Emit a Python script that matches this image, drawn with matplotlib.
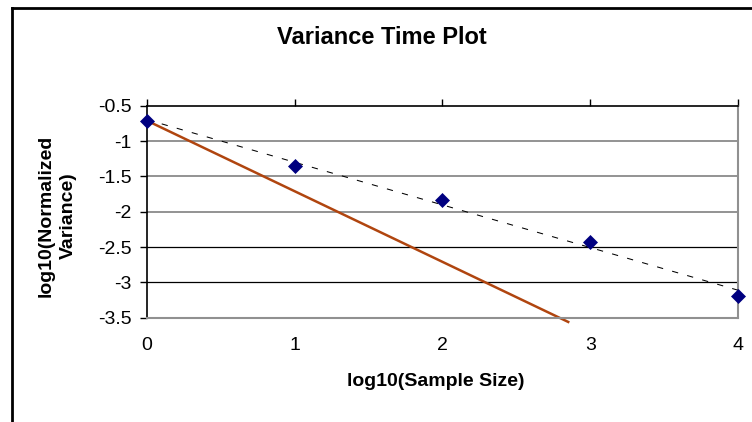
import numpy as np
import matplotlib
matplotlib.use('Agg')
import matplotlib.pyplot as plt
from matplotlib.lines import Line2D

plt.rcParams['font.family'] = ['Liberation Sans', 'DejaVu Sans']
plt.rcParams['axes.unicode_minus'] = False

# 数据：log10(样本量) 与 log10(归一化方差)
sample_size = [0, 1, 2, 3, 4]
norm_var = [-0.71, -1.35, -1.84, -2.43, -3.19]

# 斜率 -1 的参考线（两个端点）
ref_x = [0, 2.85]
ref_y = [-0.71, -3.56]

x_ticks = [0, 1, 2, 3, 4]
x_labels = ['0', '1', '2', '3', '4']
y_ticks = [-3.5, -3, -2.5, -2, -1.5, -1, -0.5]
y_labels = ['-3.5', '-3', '-2.5', '-2', '-1.5', '-1', '-0.5']
grid_levels = [-1, -1.5, -2, -2.5, -3]
grid_colors = ['#808080', '#808080', '#808080', '#000000', '#000000']

W, H = 752, 422
fig = plt.figure(figsize=(W / 100, H / 100), dpi=100)
ax = fig.add_axes([146.7 / W, 1 - 317.7 / H, (738.3 - 146.7) / W, (317.7 - 105.7) / H])

# 网格线
for lv, c in zip(grid_levels, grid_colors):
    ax.axhline(lv, color=c, lw=1.2 if c != '#000000' else 0.9, zorder=1)

# 线性趋势线（和 Excel 一样用最小二乘）
k, b = np.polyfit(sample_size, norm_var, 1)
tx = np.array([sample_size[0], sample_size[-1]])
ax.plot(tx, k * tx + b, color='black', lw=0.75, dashes=(6, 9), zorder=3)

# 参考线
ax.plot(ref_x, ref_y, color='#B0450F', lw=1.8, clip_on=False, zorder=2)

# 数据点
ax.plot(sample_size, norm_var, linestyle='none', marker='D', markersize=6.8,
        color='#000080', mew=0.5, clip_on=False, zorder=4)

ax.set_xlim(0, 4)
ax.set_ylim(-3.5, -0.5)
ax.set_xticks(x_ticks)
ax.set_xticklabels(x_labels)
ax.set_yticks(y_ticks)
ax.set_yticklabels(y_labels)

ax.spines['left'].set_color('black')
ax.spines['left'].set_linewidth(1.2)
ax.spines['top'].set_color('black')
ax.spines['top'].set_linewidth(1.2)
ax.spines['right'].set_color('#909090')
ax.spines['right'].set_linewidth(1.5)
ax.spines['bottom'].set_color('#909090')
ax.spines['bottom'].set_linewidth(1.5)

ax.tick_params(axis='x', top=True, bottom=False, labeltop=False, labelbottom=True,
               direction='out', length=5, width=1, pad=9, labelsize=14)
ax.tick_params(axis='y', direction='out', length=5, width=1, pad=6, labelsize=14)

# 标题和坐标轴标题
fig.text(381.5 / W, 1 - 37 / H, 'Variance Time Plot', ha='center', va='center',
         fontsize=17, fontweight='bold')
fig.text(435.5 / W, 1 - 381 / H, 'log10(Sample Size)', ha='center', va='center',
         fontsize=14, fontweight='bold')
fig.text(57.5 / W, 1 - 216 / H, 'log10(Normalized\nVariance)', ha='center', va='center',
         rotation=90, multialignment='center', fontsize=14, fontweight='bold',
         linespacing=1.4)

# 图表外框（只露出上边和左边）
fig.add_artist(Line2D([11.5 / W, 11.5 / W], [0, 1 - 8 / H], color='black', lw=2,
                      transform=fig.transFigure))
fig.add_artist(Line2D([11.5 / W, 1], [1 - 8 / H, 1 - 8 / H], color='black', lw=2,
                      transform=fig.transFigure))

plt.savefig('out.png', dpi=100)
